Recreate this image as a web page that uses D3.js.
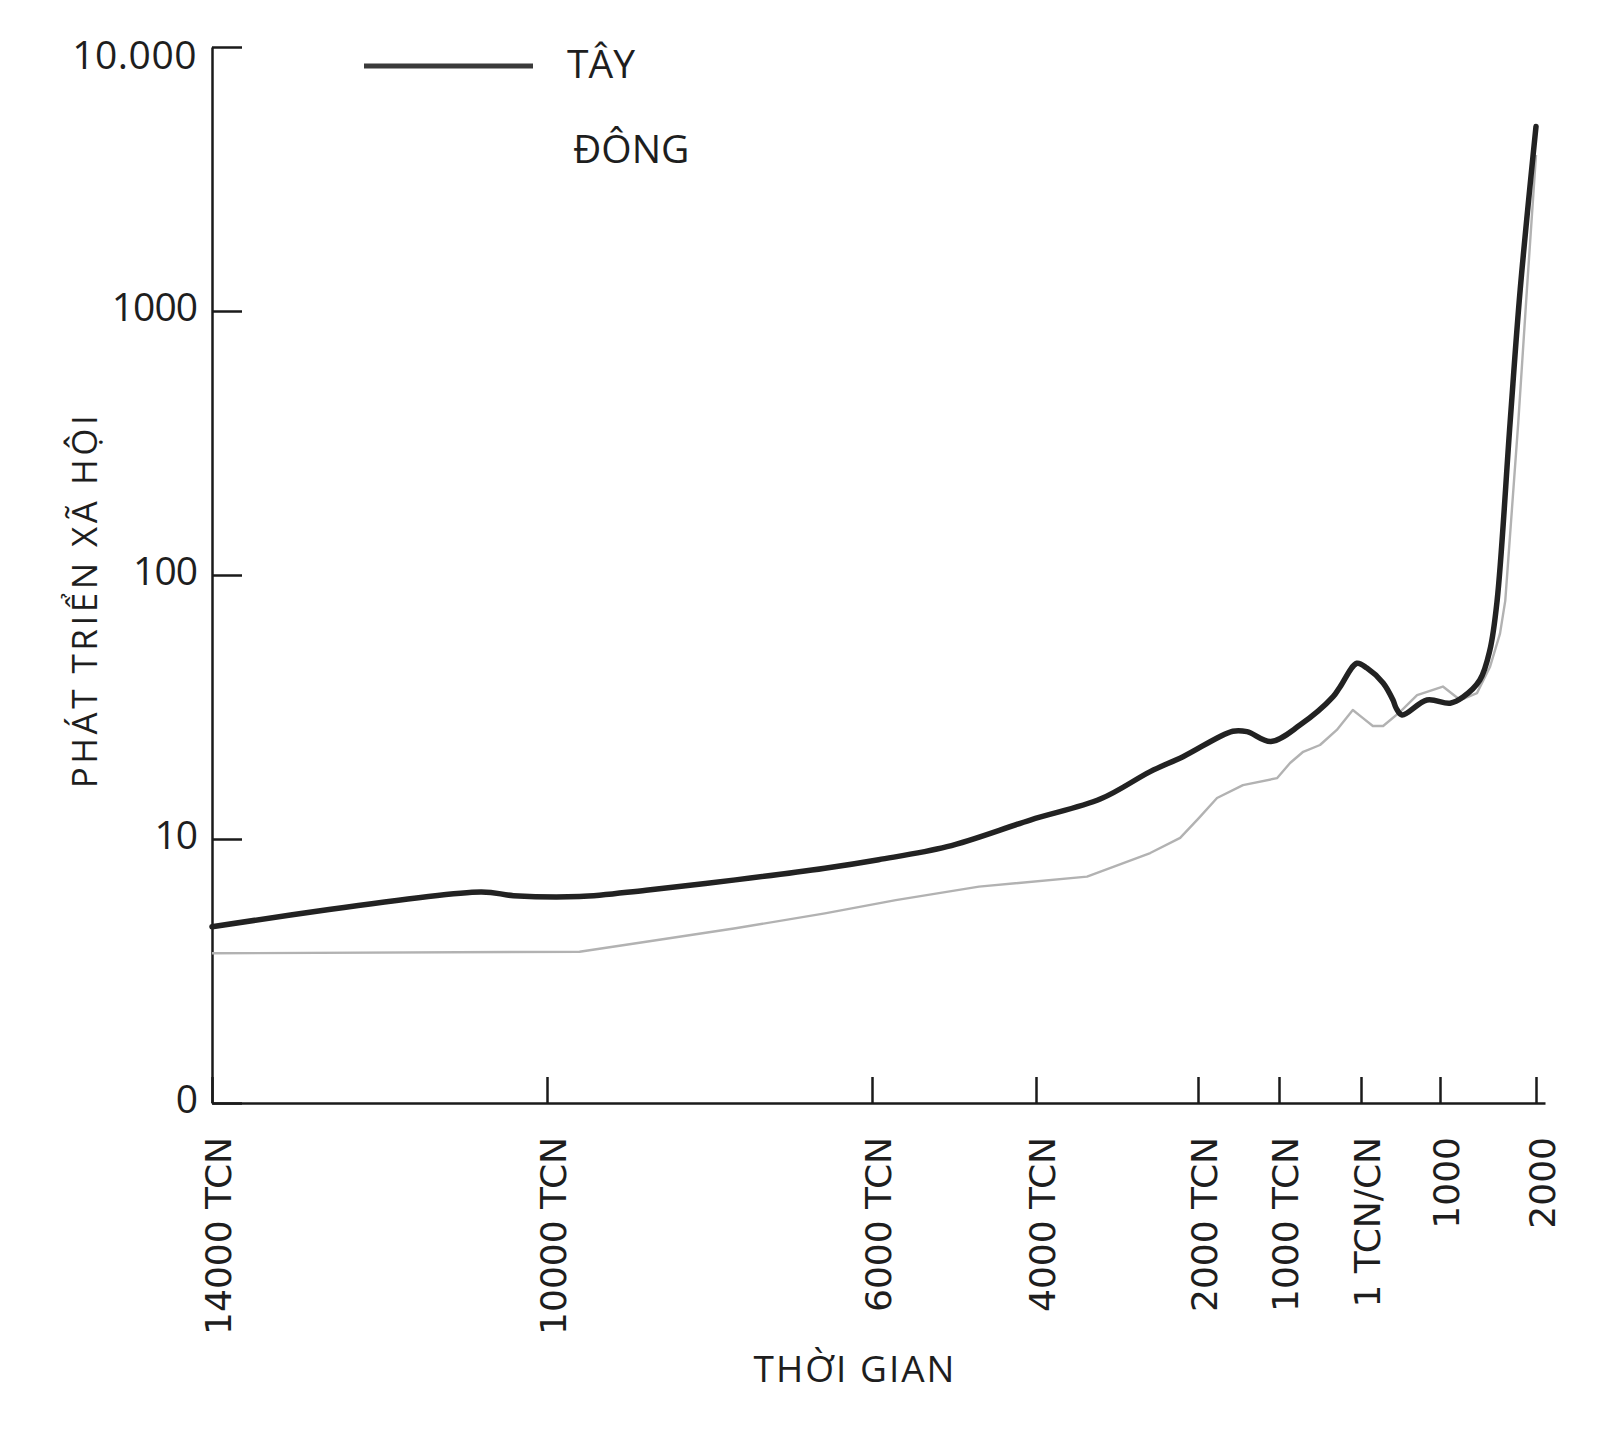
<!DOCTYPE html>
<html>
<head>
<meta charset="utf-8">
<script src="https://cdn.jsdelivr.net/npm/d3@7"></script>
<style>
  body { margin: 0; background: #fff; }
  svg { display: block; }
</style>
</head>
<body>
<svg id="chart" width="1600" height="1429"></svg>
<script>
// West (Tây) and East (Đông) social development, [year, score]
const tayData = [
  [-14000, 4.65], [-10790, 6.3], [-10400, 6.1], [-9600, 6.05], [-8780, 6.4],
  [-7680, 7.0], [-6580, 7.75], [-5920, 8.35], [-5085, 9.35], [-4070, 11.8],
  [-3200, 14.2], [-2590, 18.0], [-2185, 20.5], [-1570, 25.6], [-1395, 25.5],
  [-1100, 23.4], [-745, 27.0], [-340, 34.6], [-255, 37.7], [-50, 46.3],
  [75, 44.4], [280, 39.0], [405, 33.6], [445, 31.3], [520, 29.5],
  [835, 33.6], [1105, 32.7], [1240, 34.5], [1415, 40.0], [1520, 52],
  [1595, 80], [1730, 377], [1835, 1200], [2000, 5000]
];
const dongData = [
  [-14000, 3.69], [-9600, 3.74], [-8780, 4.08], [-7680, 4.59], [-6580, 5.23],
  [-5710, 5.87], [-4695, 6.6], [-3370, 7.2], [-2590, 8.85], [-2220, 10.1],
  [-1990, 12.0], [-1765, 14.3], [-1445, 16.0], [-1025, 17.0], [-865, 19.4],
  [-705, 21.4], [-500, 22.7], [-295, 25.9], [-100, 30.8], [25, 28.7],
  [150, 26.8], [280, 26.8], [495, 30.3], [710, 35.1], [1030, 37.8],
  [1210, 33.6], [1385, 35.7], [1520, 44.8], [1625, 60], [1680, 80],
  [1815, 377], [1905, 1200], [2000, 3900]
];

const xTickYears = [-14000, -10000, -6000, -4000, -2000, -1000, 0, 1000, 2000];
const xTickLabels = ["14000 TCN", "10000 TCN", "6000 TCN", "4000 TCN", "2000 TCN",
  "1000 TCN", "1 TCN/CN", "1000", "2000"];
const yTickValues = [1, 10, 100, 1000, 10000];
const yTickLabels = ["0", "10", "100", "1000", "10.000"];

const textColor = "#1e1e1e";
const humanist = "'Open Sans', 'Noto Sans', sans-serif";

const svg = d3.select("#chart");

// time axis of the original is not quite uniform, so use a piecewise scale
const x = d3.scaleLinear()
  .domain([-14000, -10000, -6000, -4000, -2000, -1000, 0, 1000, 2000, 2100])
  .range([212, 547, 872, 1036, 1198, 1279, 1361, 1440, 1536, 1545]);

const y = d3.scaleLog()
  .domain([1, 10000])
  .range([1103, 47]);

// x axis
const xAxis = svg.append("g")
  .attr("transform", "translate(0," + y(1) + ")")
  .call(d3.axisBottom(x)
    .tickValues(xTickYears)
    .tickFormat((d, i) => xTickLabels[i])
    .tickSizeInner(-26)
    .tickSizeOuter(0));

xAxis.select(".domain").attr("stroke", "#1a1a1a").attr("stroke-width", 2.5);
xAxis.selectAll(".tick line").attr("stroke", "#1a1a1a").attr("stroke-width", 2.5);
xAxis.selectAll(".tick text")
  .attr("transform", "rotate(-90)")
  .attr("x", -34)
  .attr("y", 6)
  .attr("dy", "0.35em")
  .style("text-anchor", "end")
  .style("font-family", "'DejaVu Sans', Verdana, sans-serif")
  .style("font-size", "36px")
  .style("letter-spacing", "0px")
  .style("fill", textColor);

// y axis
const yAxis = svg.append("g")
  .attr("transform", "translate(" + x(-14000) + ",0)")
  .call(d3.axisLeft(y)
    .tickValues(yTickValues)
    .tickFormat((d, i) => yTickLabels[i])
    .tickSizeInner(-30)
    .tickSizeOuter(0));

yAxis.select(".domain").attr("stroke", "#1a1a1a").attr("stroke-width", 2.5);
yAxis.selectAll(".tick line").attr("stroke", "#1a1a1a").attr("stroke-width", 2.5);
yAxis.selectAll(".tick text")
  .attr("x", -15)
  .attr("dy", d => d === 10000 ? "0.55em" : "0.25em")
  .style("font-family", humanist)
  .style("font-size", "39px")
  .style("letter-spacing", d => d === 10000 ? "0.5px" : "-1px")
  .style("fill", textColor);

// lines
const line = d3.line()
  .x(d => x(d[0]))
  .y(d => y(d[1]));

svg.append("path")
  .datum(dongData)
  .attr("fill", "none")
  .attr("stroke", "#b2b2b2")
  .attr("stroke-width", 2.4)
  .attr("stroke-linejoin", "round")
  .attr("d", line.curve(d3.curveLinear));

svg.append("path")
  .datum(tayData)
  .attr("fill", "none")
  .attr("stroke", "#222")
  .attr("stroke-width", 5.5)
  .attr("stroke-linejoin", "round")
  .attr("stroke-linecap", "round")
  .attr("d", line.curve(d3.curveCatmullRom.alpha(0.5)));

// legend
svg.append("line")
  .attr("x1", 364).attr("x2", 533)
  .attr("y1", 66).attr("y2", 66)
  .attr("stroke", "#3a3a3a")
  .attr("stroke-width", 5);

svg.append("text")
  .attr("x", 567).attr("y", 78)
  .text("TÂY")
  .style("font-family", humanist)
  .style("font-size", "39px")
  .style("fill", textColor);

svg.append("text")
  .attr("x", 573).attr("y", 163)
  .text("ĐÔNG")
  .style("font-family", humanist)
  .style("font-size", "39px")
  .style("fill", textColor);

// axis titles
svg.append("text")
  .attr("transform", "translate(97,600) rotate(-90)")
  .attr("text-anchor", "middle")
  .text("PHÁT TRIỂN XÃ HỘI")
  .style("font-family", humanist)
  .style("font-size", "35px")
  .style("letter-spacing", "3.5px")
  .style("fill", textColor);

svg.append("text")
  .attr("x", 855).attr("y", 1382)
  .attr("text-anchor", "middle")
  .text("THỜI GIAN")
  .style("font-family", humanist)
  .style("font-size", "37px")
  .style("letter-spacing", "2px")
  .style("fill", textColor);
</script>
</body>
</html>
